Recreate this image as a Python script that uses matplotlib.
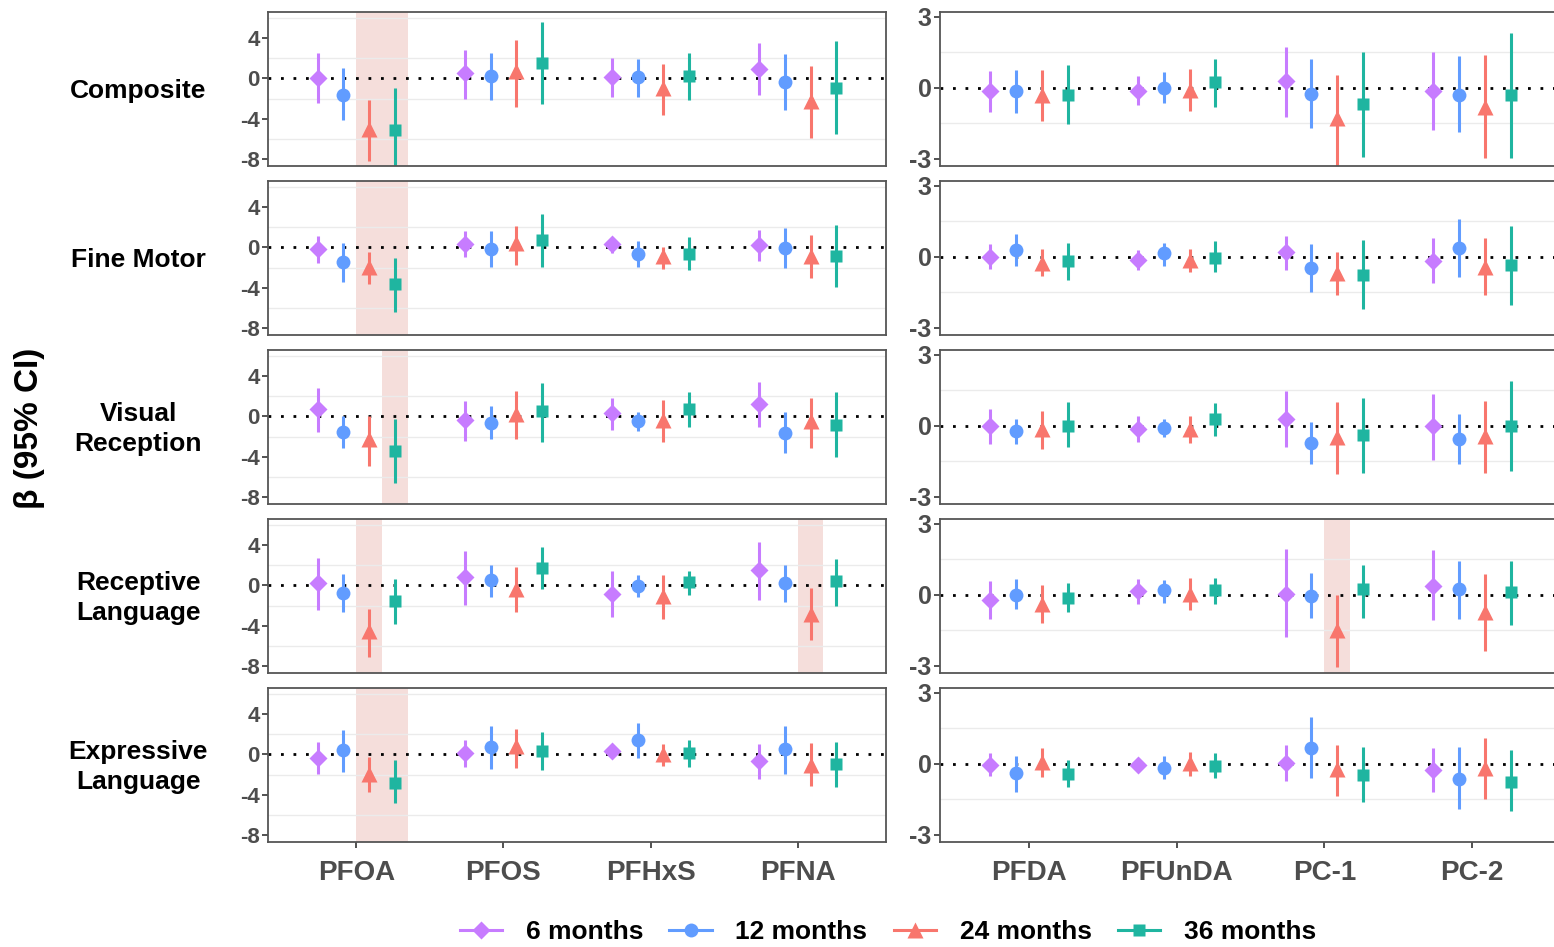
import numpy as np
import matplotlib
matplotlib.use('Agg')
import matplotlib.pyplot as plt
from matplotlib.lines import Line2D

plt.rcParams['font.family'] = ['Liberation Sans', 'DejaVu Sans']

# categories
outcomes = ['Composite', 'Fine Motor', 'Visual\nReception', 'Receptive\nLanguage', 'Expressive\nLanguage']
chem_left = ['PFOA', 'PFOS', 'PFHxS', 'PFNA']
chem_right = ['PFDA', 'PFUnDA', 'PC-1', 'PC-2']
ages = ['6 months', '12 months', '24 months', '36 months']
age_colors = ['#C77CFF', '#619CFF', '#F8766D', '#1FB5A0']
age_markers = ['D', 'o', '^', 's']

# estimates and 95% CI, rows = chemical, cols = age (6, 12, 24, 36 months)
# --- left block (PFOA, PFOS, PFHxS, PFNA) ---
comp_L_est = [[0.0, -1.6, -5.0, -5.15], [0.5, 0.23, 0.75, 1.57], [0.1, 0.1, -1.0, 0.23], [0.98, -0.4, -2.2, -1.0]]
comp_L_lo = [[-2.4, -4.16, -8.2, -9.6], [-2.0, -2.13, -2.8, -2.56], [-1.87, -1.8, -3.67, -2.13], [-1.64, -3.18, -5.9, -5.57]]
comp_L_hi = [[2.55, 1.05, -2.13, -0.92], [2.8, 2.56, 3.77, 5.57], [2.07, 1.97, 1.48, 2.56], [3.54, 2.4, 1.21, 3.7]]

fine_L_est = [[-0.17, -1.4, -1.9, -3.67], [0.37, -0.17, 0.43, 0.7], [0.37, -0.67, -0.9, -0.67], [0.27, -0.07, -0.83, -0.83]]
fine_L_lo = [[-1.5, -3.4, -3.67, -6.4], [-0.97, -1.9, -1.73, -1.97], [-0.57, -1.9, -2.13, -2.23], [-1.3, -2.07, -3.07, -3.9]]
fine_L_hi = [[1.17, 0.43, -0.5, -1.07], [1.6, 1.67, 2.17, 3.37], [0.93, 0.67, 0.03, 1.0], [1.77, 1.93, 1.27, 2.2]]

vis_L_est = [[0.73, -1.57, -2.23, -3.43], [-0.33, -0.67, 0.27, 0.5], [0.33, -0.5, -0.33, 0.73], [1.23, -1.67, -0.43, -0.83]]
vis_L_lo = [[-1.57, -3.17, -4.9, -6.57], [-2.4, -2.23, -2.23, -2.57], [-1.33, -1.43, -2.5, -1.07], [-1.07, -3.6, -3.17, -4.0]]
vis_L_hi = [[2.83, 0.0, 0.0, -0.27], [1.5, 1.0, 2.57, 3.33], [1.83, 0.43, 1.6, 2.43], [3.43, 0.4, 1.83, 2.4]]

rec_L_est = [[0.2, -0.8, -4.57, -1.5], [0.83, 0.5, -0.33, 1.77], [-0.9, -0.07, -1.07, 0.33], [1.5, 0.27, -2.8, 0.43]]
rec_L_lo = [[-2.4, -2.67, -7.07, -3.8], [-1.97, -1.13, -2.63, -0.33], [-3.17, -1.13, -3.3, -0.97], [-1.4, -1.63, -5.4, -2.0]]
rec_L_hi = [[2.77, 1.17, -2.3, 0.67], [3.43, 2.0, 1.87, 3.77], [1.43, 1.03, 1.0, 1.43], [4.27, 2.0, -0.23, 2.6]]

exp_L_est = [[-0.33, 0.43, -1.9, -2.8], [0.1, 0.72, 0.82, 0.33], [0.39, 1.41, 0.0, 0.1], [-0.66, 0.49, -1.08, -0.98]]
exp_L_lo = [[-1.9, -1.74, -3.7, -4.85], [-1.25, -1.4, -1.3, -1.57], [-0.1, -0.33, -1.15, -1.25], [-2.46, -1.97, -3.11, -3.2]]
exp_L_hi = [[1.25, 2.46, -0.26, -0.6], [1.48, 2.8, 2.56, 2.23], [0.82, 3.11, 1.08, 1.48], [1.08, 2.79, 1.15, 1.25]]

# --- right block (PFDA, PFUnDA, PC-1, PC-2) ---
comp_R_est = [[-0.11, -0.14, -0.3, -0.3], [-0.11, 0.0, -0.08, 0.27], [0.28, -0.25, -1.29, -0.68], [-0.11, -0.3, -0.79, -0.3]]
comp_R_lo = [[-1.0, -1.07, -1.38, -1.53], [-0.72, -0.65, -0.99, -0.79], [-1.21, -1.69, -3.5, -2.9], [-1.78, -1.88, -2.97, -2.97]]
comp_R_hi = [[0.71, 0.76, 0.76, 0.97], [0.52, 0.66, 0.78, 1.23], [1.72, 1.23, 0.56, 1.54], [1.54, 1.34, 1.4, 2.33]]

fine_R_est = [[0.0, 0.31, -0.26, -0.17], [-0.11, 0.17, -0.11, -0.03], [0.21, -0.47, -0.68, -0.75], [-0.17, 0.38, -0.43, -0.35]]
fine_R_lo = [[-0.5, -0.38, -0.82, -0.96], [-0.54, -0.4, -0.64, -0.64], [-0.57, -1.49, -1.63, -2.2], [-1.1, -0.85, -1.63, -2.04]]
fine_R_hi = [[0.54, 0.95, 0.33, 0.6], [0.28, 0.61, 0.35, 0.67], [0.88, 0.54, 0.21, 0.71], [0.78, 1.59, 0.78, 1.32]]

vis_R_est = [[0.0, -0.21, -0.14, 0.0], [-0.13, -0.1, -0.14, 0.3], [0.3, -0.74, -0.45, -0.38], [0.0, -0.55, -0.43, 0.0]]
vis_R_lo = [[-0.77, -0.77, -0.98, -0.91], [-0.7, -0.48, -0.74, -0.43], [-0.91, -1.59, -2.04, -1.97], [-1.42, -1.62, -1.99, -1.9]]
vis_R_hi = [[0.72, 0.3, 0.65, 1.01], [0.4, 0.3, 0.4, 0.96], [1.46, 0.16, 1.01, 1.18], [1.36, 0.51, 1.04, 1.91]]

rec_R_est = [[-0.21, 0.0, -0.37, -0.11], [0.17, 0.2, 0.06, 0.2], [0.06, -0.04, -1.47, 0.24], [0.38, 0.24, -0.73, 0.13]]
rec_R_lo = [[-1.0, -0.61, -1.18, -0.73], [-0.4, -0.33, -0.64, -0.4], [-1.79, -0.97, -3.03, -0.97], [-1.07, -1.01, -2.39, -1.29]]
rec_R_hi = [[0.57, 0.67, 0.43, 0.5], [0.67, 0.63, 0.7, 0.71], [1.95, 0.91, -0.01, 1.27], [1.88, 1.45, 0.88, 1.45]]

exp_R_est = [[-0.04, -0.4, 0.07, -0.42], [-0.05, -0.18, 0.04, -0.1], [0.04, 0.66, -0.21, -0.45], [-0.24, -0.64, -0.18, -0.75]]
exp_R_lo = [[-0.49, -1.17, -0.54, -0.99], [-0.35, -0.64, -0.49, -0.59], [-0.71, -0.59, -1.37, -1.6], [-1.2, -1.91, -1.48, -1.98]]
exp_R_hi = [[0.47, 0.35, 0.66, 0.17], [0.25, 0.35, 0.52, 0.47], [0.78, 1.98, 0.82, 0.71], [0.68, 0.71, 1.1, 0.59]]

left_data = [(comp_L_est, comp_L_lo, comp_L_hi), (fine_L_est, fine_L_lo, fine_L_hi),
             (vis_L_est, vis_L_lo, vis_L_hi), (rec_L_est, rec_L_lo, rec_L_hi),
             (exp_L_est, exp_L_lo, exp_L_hi)]
right_data = [(comp_R_est, comp_R_lo, comp_R_hi), (fine_R_est, fine_R_lo, fine_R_hi),
              (vis_R_est, vis_R_lo, vis_R_hi), (rec_R_est, rec_R_lo, rec_R_hi),
              (exp_R_est, exp_R_lo, exp_R_hi)]

# significant results: (row, side, chemical index, age index)
highlights = [(0, 'L', 0, 2), (0, 'L', 0, 3), (1, 'L', 0, 2), (1, 'L', 0, 3),
              (2, 'L', 0, 3), (3, 'L', 0, 2), (3, 'L', 3, 2),
              (4, 'L', 0, 2), (4, 'L', 0, 3), (3, 'R', 2, 2)]

W, H = 1554, 947
fig = plt.figure(figsize=(W / 100, H / 100), dpi=100)

dodge = 0.175
offsets = (np.arange(4) - 1.5) * dodge
row_top = [12, 181, 350, 519, 688]
panel_h = 154
grey = '#4D4D4D'
msizes = {'D': 9, 'o': 10, '^': 11, 's': 9}


def make_panel(left_px, width_px, top_px, data, ylim, yticks, ygrid, chems, side, row, tick_fs, last):
    ax = fig.add_axes([left_px / W, 1 - (top_px + panel_h) / H, width_px / W, panel_h / H])
    est, lo, hi = (np.array(d) for d in data)
    x = np.arange(1, 5)
    for (r, s, c, a) in highlights:
        if r == row and s == side:
            xc = x[c] + offsets[a]
            ax.axvspan(xc - dodge / 2, xc + dodge / 2, color='#F5DEDB', lw=0, zorder=0)
    for g in ygrid:
        ax.axhline(g, color='#EBEBEB', lw=1.0, zorder=0.5)
    ax.axhline(0, color='black', ls=(0, (1, 3.5)), lw=2.0, zorder=1)
    for a in range(4):
        xs = x + offsets[a]
        ax.vlines(xs, lo[:, a], hi[:, a], color=age_colors[a], lw=2.2, zorder=2)
        ax.plot(xs, est[:, a], ls='none', marker=age_markers[a], ms=msizes[age_markers[a]],
                color=age_colors[a], mec='none', zorder=3)
    ax.set_xlim(0.4, 4.6)
    ax.set_ylim(*ylim)
    ax.set_yticks(yticks)
    ax.set_yticklabels([str(t) for t in yticks], fontsize=tick_fs, fontweight='bold', color=grey)
    ax.set_xticks(x)
    ax.tick_params(axis='both', direction='out', length=4, width=1.2, color='#333333', pad=2)
    if last:
        ax.set_xticklabels(chems, fontsize=20, fontweight='bold', color=grey)
        ax.tick_params(axis='x', pad=9)
    else:
        ax.set_xticklabels([])
        ax.tick_params(axis='x', length=0)
    for sp in ax.spines.values():
        sp.set_color('#555555')
        sp.set_linewidth(1.3)
    return ax


for i in range(5):
    last = (i == 4)
    make_panel(268, 618, row_top[i], left_data[i], (-8.7, 6.6), [4, 0, -4, -8],
               [6, 2, -2, -6], chem_left, 'L', i, 16, last)
    make_panel(940, 621, row_top[i], right_data[i], (-3.3, 3.21), [3, 0, -3],
               [1.5, -1.5], chem_right, 'R', i, 18, last)
    fig.text(138 / W, 1 - (row_top[i] + panel_h / 2 + 2) / H, outcomes[i], ha='center', va='center',
             fontsize=19, fontweight='bold', linespacing=1.35)

fig.text(30 / W, 1 - 428 / H, 'β (95% CI)', rotation=90, ha='center', va='center',
         fontsize=24, fontweight='bold')

handles = [Line2D([0], [0], color=age_colors[a], marker=age_markers[a], lw=2.2,
                  ms=msizes[age_markers[a]], mec='none')
           for a in range(4)]
leg = fig.legend(handles, ages, loc='center', bbox_to_anchor=(888 / W, 1 - 932 / H), ncol=4,
                 frameon=False, handlelength=1.6, columnspacing=1.0, handletextpad=0.9,
                 prop={'weight': 'bold', 'size': 19})

fig.savefig('out.png', dpi=100)
